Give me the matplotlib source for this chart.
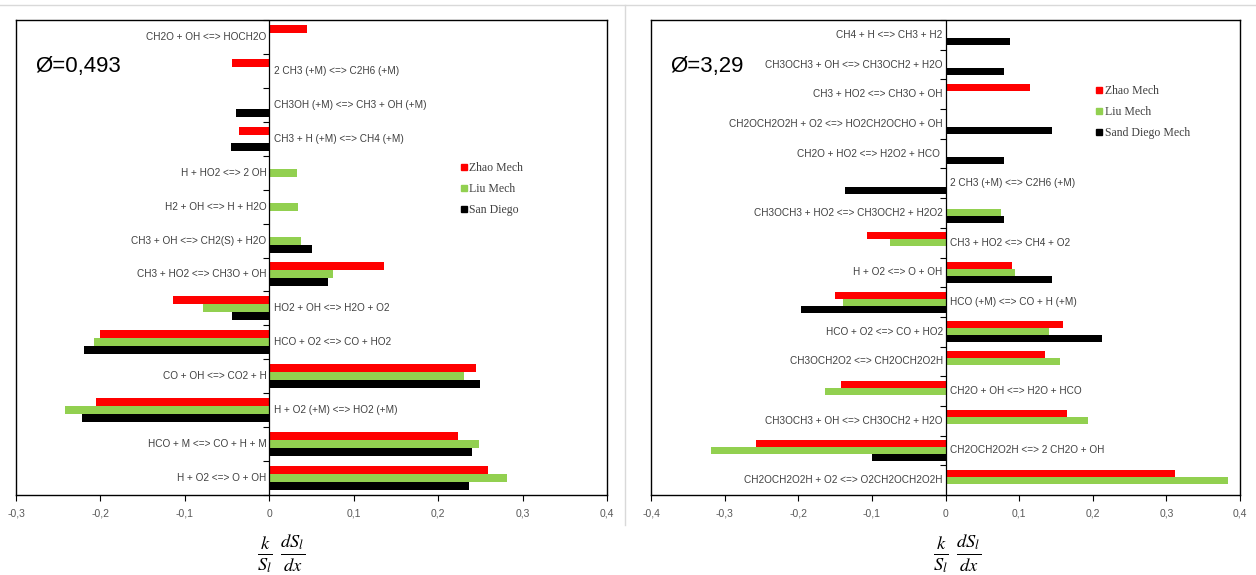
import numpy as np
import matplotlib.pyplot as plt
from matplotlib.lines import Line2D

plt.rcParams['mathtext.fontset'] = 'stix'
plt.rcParams['font.family'] = ['Liberation Sans', 'DejaVu Sans']

# reacciones de arriba abajo, phi = 0,493
lean_rxns = [
    "CH2O + OH <=> HOCH2O",
    "2 CH3 (+M) <=> C2H6 (+M)",
    "CH3OH (+M) <=> CH3 + OH (+M)",
    "CH3 + H (+M) <=> CH4 (+M)",
    "H + HO2 <=> 2 OH",
    "H2 + OH <=> H + H2O",
    "CH3 + OH <=> CH2(S) + H2O",
    "CH3 + HO2 <=> CH3O + OH",
    "HO2 + OH <=> H2O + O2",
    "HCO + O2 <=> CO + HO2",
    "CO + OH <=> CO2 + H",
    "H + O2 (+M) <=> HO2 (+M)",
    "HCO + M <=> CO + H + M",
    "H + O2 <=> O + OH",
]
lean_zhao = [0.045, -0.044, 0, -0.036, 0, 0, 0, 0.136, -0.114, -0.200, 0.245, -0.205, 0.224, 0.259]
lean_liu = [0, 0, 0, 0, 0.033, 0.034, 0.037, 0.076, -0.078, -0.208, 0.231, -0.242, 0.248, 0.281]
lean_sd = [0, 0, -0.040, -0.045, 0, 0, 0.050, 0.070, -0.044, -0.219, 0.250, -0.222, 0.240, 0.237]

# phi = 3,29
rich_rxns = [
    "CH4 + H <=> CH3 + H2",
    "CH3OCH3 + OH <=> CH3OCH2 + H2O",
    "CH3 + HO2 <=> CH3O + OH",
    "CH2OCH2O2H + O2 <=> HO2CH2OCHO + OH",
    "CH2O + HO2 <=> H2O2 + HCO ",
    "2 CH3 (+M) <=> C2H6 (+M)",
    "CH3OCH3 + HO2 <=> CH3OCH2 + H2O2",
    "CH3 + HO2 <=> CH4 + O2",
    "H + O2 <=> O + OH",
    "HCO (+M) <=> CO + H (+M)",
    "HCO + O2 <=> CO + HO2",
    "CH3OCH2O2 <=> CH2OCH2O2H",
    "CH2O + OH <=> H2O + HCO",
    "CH3OCH3 + OH <=> CH3OCH2 + H2O",
    "CH2OCH2O2H <=> 2 CH2O + OH",
    "CH2OCH2O2H + O2 <=> O2CH2OCH2O2H",
]
rich_zhao = [0, 0, 0.115, 0, 0, 0, 0, -0.107, 0.090, -0.150, 0.160, 0.135, -0.142, 0.165, -0.257, 0.312]
rich_liu = [0, 0, 0, 0, 0, 0, 0.075, -0.076, 0.095, -0.139, 0.140, 0.156, -0.163, 0.193, -0.318, 0.384]
rich_sd = [0.088, 0.079, 0, 0.144, 0.079, -0.136, 0.080, 0, 0.144, -0.196, 0.213, 0, 0, 0, -0.100, 0]

colors = ['#FF0000', '#92D050', '#000000']


def tick_fmt(v):
    if abs(v) < 1e-9:
        return "0"
    return f"{v:.1f}".replace('.', ',')


def panel(ax, rxns, zhao, liu, sd, xticks, phi, names, leg_xy):
    n = len(rxns)
    y = np.arange(n)[::-1]
    h = 0.236
    for vals, off, c in zip([zhao, liu, sd], [h, 0, -h], colors):
        ax.barh(y + off, vals, height=h, color=c, linewidth=0)

    # eje de categorias en x = 0
    ax.axvline(0, color='black', lw=0.9)
    ax.plot(np.zeros(n + 1), np.arange(n + 1) - 0.5, ls='none', marker=0,
            ms=4, mew=0.8, color='black', clip_on=False)

    for yi, name, a, b, c in zip(y, rxns, zhao, liu, sd):
        if a + b + c < 0:
            ax.annotate(name, (0, yi), xytext=(3.5, 0), textcoords='offset points',
                        ha='left', va='center', fontsize=7.2, color='#404040')
        else:
            ax.annotate(name, (0, yi), xytext=(-2, 0), textcoords='offset points',
                        ha='right', va='center', fontsize=7.2, color='#404040')

    ax.set_xlim(xticks[0], xticks[-1])
    ax.set_ylim(-0.5, n - 0.5)
    ax.set_xticks(xticks)
    ax.set_xticklabels([tick_fmt(v) for v in xticks])
    ax.set_yticks([])
    ax.tick_params(axis='x', length=4, width=0.8, color='black',
                   labelcolor='#595959', labelsize=7.5, pad=6)
    for s in ax.spines.values():
        s.set_linewidth(1.0)
        s.set_color('black')

    ax.text(0.032, 0.903, phi, transform=ax.transAxes, fontsize=16,
            ha='left', va='center', color='black')

    handles = [Line2D([], [], ls='none', marker='s', ms=5, color=c) for c in colors]
    ax.legend(handles, names, loc='upper left', bbox_to_anchor=leg_xy,
              frameon=False, handlelength=0.5, handletextpad=0.2,
              labelspacing=0.75, borderaxespad=0, labelcolor='#404040',
              prop=dict(family='Liberation Serif', size=8.5))


fig = plt.figure(figsize=(12.56, 5.75), dpi=100)
ax1 = fig.add_axes([16 / 1256, 80 / 575, 591 / 1256, 475 / 575])
ax2 = fig.add_axes([651 / 1256, 80 / 575, 589 / 1256, 475 / 575])

panel(ax1, lean_rxns, lean_zhao, lean_liu, lean_sd,
      [-0.3, -0.2, -0.1, 0, 0.1, 0.2, 0.3, 0.4], "Ø=0,493",
      ["Zhao Mech", "Liu Mech", "San Diego"], (0.745, 0.71))
panel(ax2, rich_rxns, rich_zhao, rich_liu, rich_sd,
      [-0.4, -0.3, -0.2, -0.1, 0, 0.1, 0.2, 0.3, 0.4], "Ø=3,29",
      ["Zhao Mech", "Liu Mech", "Sand Diego Mech"], (0.748, 0.873))

# bordes de los dos graficos
fig.add_artist(Line2D([0, 1], [1 - 5 / 575] * 2, transform=fig.transFigure,
                      color='#d9d9d9', lw=1))
fig.add_artist(Line2D([625 / 1256] * 2, [1 - 5 / 575, 1 - 525 / 575],
                      transform=fig.transFigure, color='#d9d9d9', lw=1))

label = r'$\frac{k}{S_l}\ \frac{dS_l}{dx}$'
fig.text(281 / 1256, 1 - 553 / 575, label, ha='center', va='center', fontsize=19)
fig.text(957 / 1256, 1 - 553 / 575, label, ha='center', va='center', fontsize=19)

fig.savefig('out.png', dpi=100)
